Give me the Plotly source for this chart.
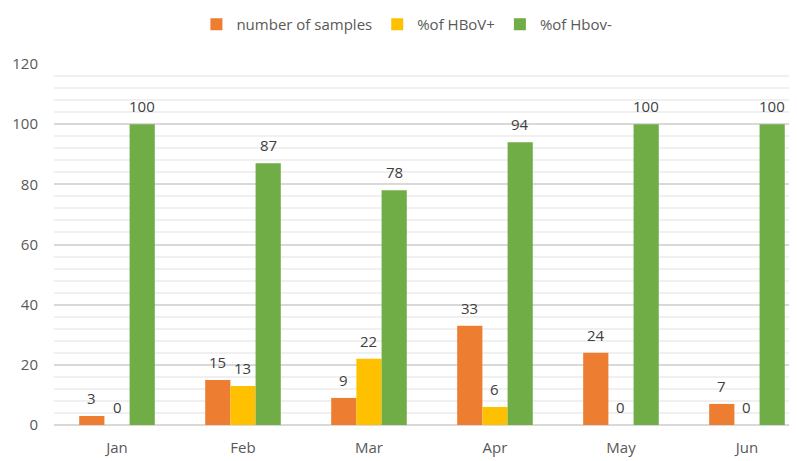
import plotly.graph_objects as go

months = ["Jan", "Feb", "Mar", "Apr", "May", "Jun"]
samples = [3, 15, 9, 33, 24, 7]
hbov_pos = [0, 13, 22, 6, 0, 0]
hbov_neg = [100, 87, 78, 94, 100, 100]
series_names = ["number of samples", "%of HBoV+", "%of Hbov-"]
colors = ["#ED7D31", "#FFC000", "#70AD47"]

FONT = "Open Sans"
fig = go.Figure()
series = [samples, hbov_pos, hbov_neg]
for name, vals, c in zip(series_names, series, colors):
    fig.add_trace(go.Bar(x=months, y=vals, name=name, marker=dict(color=c, line=dict(width=0))))

shifts = [-25.2, 0, 25.2]
for vals, sh in zip(series, shifts):
    for m, v in zip(months, vals):
        fig.add_annotation(x=m, y=v, text=str(v), showarrow=False, xshift=sh, yshift=18,
                           font=dict(family=FONT, size=15, color="#404040"))

# page body adds an 8px margin; figure sized to compensate
fig.update_layout(
    width=789, height=453,
    margin=dict(l=46, r=0, t=52, b=36),
    paper_bgcolor="white", plot_bgcolor="white",
    barmode="group", bargap=0.4, bargroupgap=0,
    font=dict(family=FONT, size=15, color="#595959"),
    legend=dict(orientation="h", x=0.475, xanchor="center", y=1.11, yref="paper", yanchor="middle",
                font=dict(family=FONT, size=15, color="#595959"), itemclick=False,
                traceorder="normal"),
    showlegend=True,
)
fig.update_xaxes(range=[-0.5, 5.397], showgrid=False, showline=False, zeroline=False,
                 ticks="", ticklabelstandoff=12, tickfont=dict(size=15, color="#595959"))
fig.update_yaxes(range=[0, 120], dtick=20, showgrid=True, gridcolor="#d9d9d9", gridwidth=2,
                 zeroline=True, zerolinecolor="#d9d9d9", zerolinewidth=2, showline=False,
                 ticks="", ticklabelstandoff=15, tickfont=dict(size=15, color="#595959"),
                 minor=dict(dtick=4, showgrid=True, gridcolor="#f0f0f0", gridwidth=1.5))

fig.write_html("out.html")
